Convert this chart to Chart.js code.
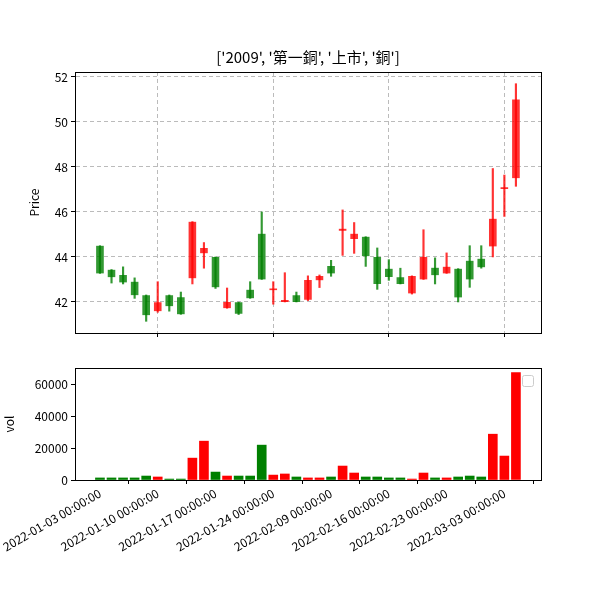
<!DOCTYPE html>
<html>
<head>
<meta charset="utf-8">
<script src="https://cdn.jsdelivr.net/npm/chart.js@4"></script>
<style>
  body { margin: 0; background: #fff; }
  canvas { position: absolute; left: 0; }
</style>
</head>
<body>
<canvas id="price" width="600" height="345" style="top:0"></canvas>
<canvas id="vol" width="600" height="255" style="top:345px"></canvas>
<script>
const dates = ['2022-01-03','2022-01-04','2022-01-05','2022-01-06','2022-01-07',
  '2022-01-10','2022-01-11','2022-01-12','2022-01-13','2022-01-14',
  '2022-01-17','2022-01-18','2022-01-19','2022-01-20','2022-01-21',
  '2022-01-24','2022-01-25','2022-01-26','2022-02-07','2022-02-08',
  '2022-02-09','2022-02-10','2022-02-11','2022-02-14','2022-02-15',
  '2022-02-16','2022-02-17','2022-02-18','2022-02-21','2022-02-22',
  '2022-02-23','2022-02-24','2022-02-25','2022-03-01','2022-03-02',
  '2022-03-03','2022-03-04'];
const open  = [44.5,43.44,43.21,42.9,42.31,41.59,42.31,42.22,43.05,44.16,44.0,41.72,41.99,42.55,45.04,42.52,42.0,42.31,42.1,
  42.96,43.61,45.17,44.8,44.9,44.0,43.48,43.11,42.38,43.0,43.53,43.27,43.48,43.84,43.93,44.47,47.02,47.5];
const close = [43.27,43.1,42.87,42.3,41.41,41.99,41.81,41.45,45.57,44.4,42.65,42.0,41.48,42.16,43.0,42.57,42.06,42.0,42.98,
  43.16,43.27,45.25,45.04,44.03,42.8,43.11,42.8,43.16,44.0,43.19,43.57,42.2,43.0,43.54,45.7,47.08,51.0];
const high  = [44.5,43.44,43.56,43.07,42.31,42.9,42.31,42.44,45.57,44.64,44.0,42.62,41.99,42.9,46.0,42.9,43.3,42.44,43.16,
  43.2,43.85,46.09,45.53,44.9,44.4,43.88,43.5,43.16,45.21,43.96,44.18,43.48,44.5,44.5,47.93,47.64,51.7];
const low   = [43.27,42.84,42.8,42.16,41.14,41.54,41.59,41.45,42.8,43.5,42.6,41.72,41.44,42.16,43.0,41.9,42.0,42.0,42.06,
  42.64,43.14,44.07,44.16,43.58,42.56,42.96,42.8,42.35,43.0,42.8,43.27,42.0,42.65,43.5,44.0,45.8,47.14];
const vol   = [1300,1300,1300,1300,2500,1900,600,600,13800,24500,5000,2500,2500,2500,22000,3100,3800,1900,1300,
  1300,1900,8800,4400,1900,1900,1300,1300,600,4400,1300,1300,1900,2500,1900,28900,15100,67800];
const priceTicks = [42, 44, 46, 48, 50, 52];
const volTicks = [0, 20000, 40000, 60000];
const title = "['2009', '第一銅', '上市', '銅']";

const fam = '"Noto Sans CJK TC", "DejaVu Sans", sans-serif';
const font = { family: fam, size: 12 };
const up = i => close[i] >= open[i];
const candleColor = dates.map((d, i) => up(i) ? 'rgba(255,0,0,0.8)' : 'rgba(0,128,0,0.8)');
const volColor = dates.map((d, i) => up(i) ? '#ff0000' : '#008000');
const xMin = -2.16, xMax = 38.17;

function fixPad(w) {
  return s => { s.paddingLeft = 0; s.paddingRight = 0; s.paddingTop = 0; s.paddingBottom = 0;
    if (s.isHorizontal()) s.height = w; else s.width = w; };
}

function framePlugin(drawExtra) {
  return {
    id: 'frame',
    afterDraw(c) {
      const a = c.chartArea, ctx = c.ctx;
      ctx.save(); ctx.strokeStyle = '#000'; ctx.lineWidth = 1;
      ctx.strokeRect(a.left + 0.5, a.top + 0.5, a.width, a.height);
      drawExtra(c, ctx, a);
      ctx.restore();
    }
  };
}

new Chart(document.getElementById('price'), {
  type: 'bar',
  data: {
    datasets: [
      { data: dates.map((d, i) => ({ x: i, y: [low[i], high[i]] })),
        backgroundColor: candleColor, barThickness: 1.5, grouped: false },
      { data: dates.map((d, i) => ({ x: i, y: [open[i], close[i]] })),
        backgroundColor: candleColor, borderColor: 'rgba(255,255,255,0.5)', borderWidth: 0.5,
        barThickness: 8, minBarLength: 2, grouped: false }
    ]
  },
  options: {
    responsive: false, animation: false, devicePixelRatio: 1,
    layout: { padding: { top: 72, right: 59, left: 25, bottom: 0 } },
    plugins: { legend: { display: false }, tooltip: { enabled: false } },
    scales: {
      x: {
        type: 'linear', min: xMin, max: xMax, offset: false,
        afterBuildTicks: s => { s.ticks = [0, 10, 20, 30].map(v => ({ value: v })); },
        afterFit: fixPad(12),
        ticks: { display: false },
        grid: { color: '#bbb', tickColor: '#000', tickLength: 4 },
        border: { color: '#000', dash: [4, 3] }
      },
      y: {
        min: 40.62, max: 52.22,
        afterBuildTicks: s => { s.ticks = priceTicks.map(v => ({ value: v })); },
        afterFit: fixPad(50),
        ticks: { color: '#000', font: font, padding: 3 },
        grid: { color: '#bbb', tickColor: '#000', tickLength: 4 },
        border: { color: '#000', dash: [4, 3] },
        title: { display: true, text: 'Price', color: '#000', font: font, padding: 2 }
      }
    }
  },
  plugins: [framePlugin((c, ctx, a) => {
    ctx.fillStyle = '#000'; ctx.font = '15px ' + fam;
    ctx.textAlign = 'center'; ctx.textBaseline = 'middle';
    ctx.fillText(title, (a.left + a.right) / 2, 57);
  })]
});

new Chart(document.getElementById('vol'), {
  type: 'bar',
  data: {
    datasets: [{ data: dates.map((d, i) => ({ x: i, y: vol[i] })), backgroundColor: volColor, barThickness: 9 }]
  },
  options: {
    responsive: false, animation: false, devicePixelRatio: 1,
    layout: { padding: { top: 23, right: 59, left: 0, bottom: 0 } },
    plugins: { legend: { display: false }, tooltip: { enabled: false } },
    scales: {
      x: {
        type: 'linear', min: xMin, max: xMax, offset: false,
        afterBuildTicks: s => { s.ticks = [0, 5, 10, 15, 20, 25, 30, 35].map(v => ({ value: v })); },
        afterFit: fixPad(120),
        ticks: { color: '#000', font: font, maxRotation: 30, minRotation: 30, autoSkip: false, padding: 2,
          callback: v => dates[v] + ' 00:00:00' },
        grid: { drawOnChartArea: false, tickColor: '#000', tickLength: 4 },
        border: { color: '#000' }
      },
      y: {
        min: 0, max: 70650,
        afterBuildTicks: s => { s.ticks = volTicks.map(v => ({ value: v })); },
        afterFit: fixPad(75),
        ticks: { color: '#000', font: font, padding: 3, callback: v => String(v) },
        grid: { drawOnChartArea: false, tickColor: '#000', tickLength: 4 },
        border: { color: '#000' },
        title: { display: true, text: 'vol', color: '#000', font: font, padding: 2 }
      }
    }
  },
  plugins: [framePlugin((c, ctx, a) => {
    ctx.strokeStyle = '#ccc';
    ctx.beginPath(); ctx.roundRect(a.right - 18.5, a.top + 7.5, 11, 11, 2); ctx.stroke();
  })]
});
</script>
</body>
</html>
